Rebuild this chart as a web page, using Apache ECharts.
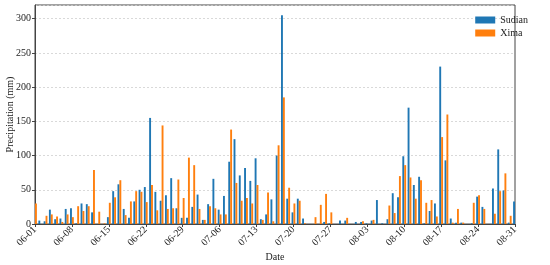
<!DOCTYPE html>
<html>
<head>
<meta charset="utf-8">
<script src="https://cdn.jsdelivr.net/npm/echarts@6/dist/echarts.min.js"></script>
<style>
  html, body { margin: 0; padding: 0; background: #fff; }
  #chart { width: 550px; height: 265px; }
</style>
</head>
<body>
<div id="chart"></div>
<script>
// daily precipitation, 06-01 .. 08-31
const monthDays = [['06', 30], ['07', 31], ['08', 31]]
const dates = []
for (const [m, n] of monthDays) {
    for (let d = 1; d <= n; d++) dates.push(m + '-' + String(d).padStart(2, '0'))
}

const sudian = [
    0, 5, 4, 21, 7, 8, 22, 23, 1, 30, 29, 17, 0, 0, 10, 48, 58, 22, 9, 33,
    50, 54, 155, 47, 34, 42, 67, 23, 9, 9, 25, 43, 6, 29, 66, 21, 41, 91, 124, 71,
    82, 63, 96, 7, 14, 36, 100, 305, 37, 17, 37, 8, 0, 0, 0, 3, 1, 0, 5, 5,
    0, 3, 3, 1, 5, 35, 1, 7, 45, 39, 99, 170, 57, 69, 1, 19, 30, 230, 93, 8,
    2, 2, 0, 1, 40, 25, 0, 52, 109, 49, 2, 33
]
const xima = [
    30, 0, 12, 14, 11, 3, 14, 10, 26, 19, 26, 79, 18, 1, 31, 39, 64, 13, 33, 48,
    47, 32, 57, 20, 144, 22, 23, 65, 38, 97, 86, 22, 6, 26, 23, 14, 14, 138, 60, 34,
    38, 30, 57, 6, 46, 4, 115, 185, 53, 30, 34, 1, 0, 10, 28, 44, 17, 0, 0, 9,
    0, 0, 4, 0, 6, 0, 0, 27, 16, 70, 86, 68, 37, 64, 31, 35, 11, 127, 160, 2,
    22, 2, 0, 31, 42, 22, 0, 15, 48, 74, 12, 0
]

const font = 'Liberation Serif, Times New Roman, serif'
const chart = echarts.init(document.getElementById('chart'))

chart.setOption({
    animation: false,
    textStyle: { fontFamily: font },
    grid: {
        left: 35, right: 35, top: 5, bottom: 41,
        outerBoundsMode: 'none',
        show: true, borderColor: '#444', borderWidth: 1
    },
    legend: {
        orient: 'vertical',
        right: 17, top: 10,
        itemWidth: 20, itemHeight: 7, itemGap: 3,
        icon: 'rect',
        textStyle: { fontFamily: font, fontSize: 10, color: '#222' },
        data: ['Sudian', 'Xima']
    },
    xAxis: {
        type: 'category',
        data: dates,
        boundaryGap: false,
        name: 'Date',
        nameLocation: 'middle',
        nameGap: 28,
        nameMoveOverlap: false,
        nameTextStyle: { fontFamily: font, fontSize: 10, color: '#222' },
        axisLine: { lineStyle: { color: '#444' } },
        axisTick: { interval: 6, length: 3, lineStyle: { color: '#444' } },
        axisLabel: {
            interval: 6, rotate: 45, margin: 4,
            fontFamily: font, fontSize: 10, color: '#222'
        },
        splitLine: { show: false }
    },
    yAxis: {
        type: 'value',
        min: 0, max: 320, interval: 50,
        name: 'Precipitation (mm)',
        nameLocation: 'middle',
        nameGap: 20,
        nameMoveOverlap: false,
        nameTextStyle: { fontFamily: font, fontSize: 10, color: '#222' },
        axisLine: { show: true, lineStyle: { color: '#444' } },
        axisTick: { show: true, length: 3, lineStyle: { color: '#444' } },
        axisLabel: {
            showMaxLabel: false, margin: 4,
            fontFamily: font, fontSize: 10, color: '#222'
        },
        splitLine: { lineStyle: { color: '#d0d0d0', type: [2, 2], width: 0.8 } }
    },
    series: [
        {
            name: 'Sudian', type: 'bar', data: sudian,
            barWidth: 1.9, barGap: '0%',
            itemStyle: { color: '#1f77b4' }
        },
        {
            name: 'Xima', type: 'bar', data: xima,
            barWidth: 1.9, barGap: '0%',
            itemStyle: { color: '#ff7f0e' }
        }
    ]
})
</script>
</body>
</html>
